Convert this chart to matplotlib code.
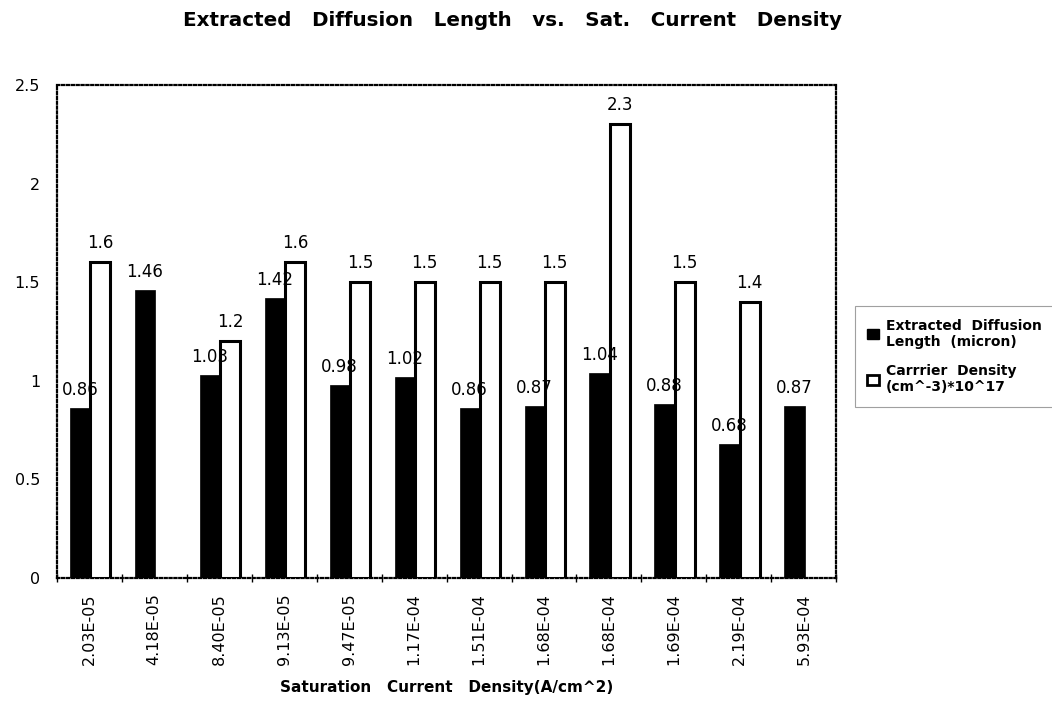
import matplotlib
matplotlib.use("Agg")
import matplotlib.pyplot as plt
from matplotlib.patches import Patch
import numpy as np

plt.rcParams['font.family'] = ['DejaVu Sans']

categories = ["2.03E-05", "4.18E-05", "8.40E-05", "9.13E-05", "9.47E-05", "1.17E-04",
              "1.51E-04", "1.68E-04", "1.68E-04", "1.69E-04", "2.19E-04", "5.93E-04"]
diffusion = [0.86, 1.46, 1.03, 1.42, 0.98, 1.02, 0.86, 0.87, 1.04, 0.88, 0.68, 0.87]
diffusion_labels = ["0.86", "1.46", "1.03", "1.42", "0.98", "1.02", "0.86", "0.87", "1.04", "0.88", "0.68", "0.87"]
carrier = [1.6, None, 1.2, 1.6, 1.5, 1.5, 1.5, 1.5, 2.3, 1.5, 1.4, None]
carrier_labels = ["1.6", "", "1.2", "1.6", "1.5", "1.5", "1.5", "1.5", "2.3", "1.5", "1.4", ""]
yticks = [0, 0.5, 1, 1.5, 2, 2.5]
ytick_labels = ["0", "0.5", "1", "1.5", "2", "2.5"]

fig = plt.figure(figsize=(10.52, 7.02), dpi=100)
ax = fig.add_axes([0.054, 0.177, 0.741, 0.702])

x = np.arange(len(categories))
bw = 0.31
xb = x - 0.145
xw = x + 0.165

ax.bar(xb, diffusion, width=bw, color='black', edgecolor='black', linewidth=0.5, zorder=2)

cw_x = [xi for xi, v in zip(xw, carrier) if v is not None]
cw_v = [v for v in carrier if v is not None]
cw_l = [l for l, v in zip(carrier_labels, carrier) if v is not None]
ax.bar(cw_x, cw_v, width=bw, color='white', edgecolor='black', linewidth=2.2, zorder=3)

for xi, v, lab in zip(xb, diffusion, diffusion_labels):
    ax.annotate(lab, (xi, v), xytext=(0, 9), textcoords='offset pixels',
                ha='center', va='bottom', fontsize=12, zorder=5)
for xi, v, lab in zip(cw_x, cw_v, cw_l):
    ax.annotate(lab, (xi, v), xytext=(0, 10), textcoords='offset pixels',
                ha='center', va='bottom', fontsize=12, zorder=5)

ax.set_xlim(-0.5, len(categories) - 0.5)
ax.set_ylim(0, 2.5)
ax.set_yticks(yticks)
ax.set_yticklabels(ytick_labels, fontsize=11.5)
ax.tick_params(axis='y', length=0, pad=12)
ax.set_xticks(x)
ax.set_xticklabels(categories, rotation=90, fontsize=11.5)
ax.tick_params(axis='x', length=0, pad=11)
ax.set_xticks(np.arange(len(categories) + 1) - 0.5, minor=True)
ax.tick_params(axis='x', which='minor', direction='inout', length=6, width=1)

for s in ax.spines.values():
    s.set_linestyle((0, (1, 1.2)))
    s.set_linewidth(1.6)
    s.set_color('black')

ax.set_xlabel("Saturation   Current   Density(A/cm^2)", fontsize=11, fontweight='bold')
ax.xaxis.set_label_coords(0.5, -0.223)
ax.xaxis.label.set_va('center')

fig.text(0.4867, 0.971, "Extracted   Diffusion   Length   vs.   Sat.   Current   Density",
         ha='center', va='center', fontsize=14.3, fontweight='bold')

handles = [Patch(facecolor='black', edgecolor='black'),
           Patch(facecolor='white', edgecolor='black', linewidth=2)]
labels = ["Extracted  Diffusion\nLength  (micron)", "Carrrier  Density\n(cm^-3)*10^17"]
leg = fig.legend(handles, labels, loc='upper left', bbox_to_anchor=(0.8127, 0.564),
                 prop={'size': 10, 'weight': 'bold'}, handlelength=0.8, handleheight=0.7,
                 handletextpad=0.5, frameon=True, fancybox=False, borderpad=0.9,
                 labelspacing=1.1, borderaxespad=0)
leg.get_frame().set_edgecolor('#888888')
leg.get_frame().set_linewidth(0.8)

fig.savefig("out.png", dpi=100)
